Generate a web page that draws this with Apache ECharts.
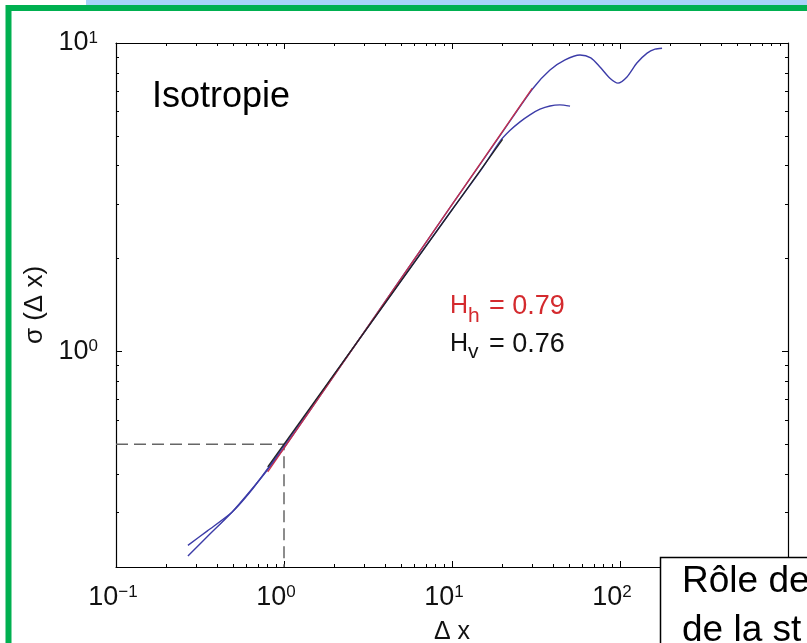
<!DOCTYPE html>
<html>
<head>
<meta charset="utf-8">
<script src="https://cdn.jsdelivr.net/npm/echarts@6/dist/echarts.min.js"></script>
<style>
  html, body { margin: 0; padding: 0; background: #fff; }
  #chart { width: 807px; height: 643px; }
</style>
</head>
<body>
<div id="chart"></div>
<script>
// σ(Δx) structure functions, horizontal and vertical directions (log–log)
const curveHx = [0.268, 0.35, 0.49, 0.628, 0.803, 1.0, 2, 5, 10, 20, 30.3, 38.3, 47.1, 57.8, 67, 76.0, 87.1, 97.3, 110, 126, 145, 161.5, 178];
const curveHy = [0.217, 0.251, 0.301, 0.352, 0.415, 0.487, 0.84, 1.73, 2.99, 5.15, 7.12, 8.17, 8.81, 9.14, 8.95, 8.36, 7.69, 7.41, 7.76, 8.61, 9.27, 9.55, 9.62];

const curveVx = [0.268, 0.35, 0.49, 0.628, 0.803, 1.0, 2, 5, 10, 15, 19.3, 22.1, 25.4, 29.1, 33.4, 38.3, 43.9, 50.4];
const curveVy = [0.235, 0.262, 0.301, 0.35, 0.418, 0.495, 0.845, 1.70, 2.88, 3.9, 4.8, 5.2, 5.55, 5.85, 6.1, 6.25, 6.3, 6.24];

// Power-law fits σ = a·Δx^H
const fitHexp = 0.79, fitHcoef = 0.485, fitHrange = [0.8, 30];
const fitVexp = 0.76, fitVcoef = 0.5, fitVrange = [0.8, 20];

// Reference guide at Δx = 1
const guideX = [0.1, 1, 1];
const guideY = [0.5, 0.5, 0.2];

// Axis extents and tick exponents
const xRange = [0.1, 1000];
const yRange = [0.2, 10];
const yLabelExp = [0, 1];
const minorMult = [2, 3, 4, 5, 6, 7, 8, 9];

const L = Math.log10;
const toPts = (xs, ys) => xs.map((x, i) => [L(x), L(ys[i])]);
const fitPts = (a, h, r) => r.map(x => [L(x), L(a * Math.pow(x, h))]);

const xMinor = [];
for (let d = -1; d < 3; d++) minorMult.forEach(m => xMinor.push(L(m * Math.pow(10, d))));
const yMinor = [];
for (let d = -1; d < 1; d++) minorMult.forEach(m => { const v = m * Math.pow(10, d); if (v >= yRange[0]) yMinor.push(L(v)); });

const FONT = '"Liberation Sans", Arial, Helvetica, sans-serif';
const supText = v => (v < 0 ? '\u2212' + (-v) : String(v));

const labelRich = {
  b: { fontSize: 27, lineHeight: 27, color: '#111', fontFamily: FONT },
  s: { fontSize: 17, lineHeight: 17, color: '#111', fontFamily: FONT, verticalAlign: 'top' },
  p1: { width: 16, fontSize: 10 },
  p2: { width: 6, fontSize: 10 }
};

const lineOn = { show: true, onZero: false, lineStyle: { color: '#000', width: 1.2 } };
const lineOff = { show: false, onZero: false };

const xA = [L(xRange[0]), L(xRange[1])];
const yA = [L(yRange[0]), L(yRange[1])];

function xAxisDef(pos, major) {
  return {
    type: 'value', position: pos, min: xA[0], max: xA[1], interval: 1,
    splitLine: { show: false },
    axisLine: major ? lineOn : lineOff,
    axisTick: major
      ? { inside: true, length: 6, lineStyle: { color: '#000' } }
      : { inside: true, length: 3, customValues: xMinor, lineStyle: { color: '#000' } },
    axisLabel: { show: false }
  };
}
function yAxisDef(pos, major) {
  return {
    type: 'value', position: pos, min: yA[0], max: yA[1],
    splitLine: { show: false },
    axisLine: major ? lineOn : lineOff,
    axisTick: major
      ? { inside: true, length: 6, customValues: yLabelExp, lineStyle: { color: '#000' } }
      : { inside: true, length: 3, customValues: yMinor, lineStyle: { color: '#000' } },
    axisLabel: { show: false }
  };
}

const xBottom = xAxisDef('bottom', true);
xBottom.axisLabel = {
  show: true, margin: 17,
  formatter: v => {
    const s = supText(v);
    return '{b|10}{s|' + s + '}' + (s.length > 1 ? '{p2| }' : '{p1| }');
  },
  rich: labelRich
};
xBottom.name = '\u0394 x';
xBottom.nameLocation = 'middle';
xBottom.nameGap = 53;
xBottom.nameTextStyle = { fontSize: 25, color: '#111', fontFamily: FONT };

const yLeft = yAxisDef('left', true);
yLeft.axisLabel = {
  show: true, margin: 18, customValues: yLabelExp,
  formatter: v => '{b|10}{s|' + supText(Math.round(v)) + '}',
  rich: labelRich
};
yLeft.name = '\u03c3 (\u0394 x)';
yLeft.nameLocation = 'middle';
yLeft.nameGap = 66;
yLeft.nameTextStyle = { fontSize: 26, color: '#111', fontFamily: FONT };

const chart = echarts.init(document.getElementById('chart'), null, { renderer: 'canvas' });

chart.setOption({
  animation: false,
  backgroundColor: '#fff',
  grid: { left: 116, top: 43, right: 19, bottom: 76, containLabel: false, outerBoundsMode: 'none' },
  xAxis: [xBottom, xAxisDef('top', true), xAxisDef('bottom', false), xAxisDef('top', false)],
  yAxis: [yLeft, yAxisDef('right', true), yAxisDef('left', false), yAxisDef('right', false)],
  series: [
    {
      name: 'guide', type: 'line', data: toPts(guideX, guideY), symbol: 'none',
      lineStyle: { color: '#666', width: 1.5, type: [12, 6] }, z: 1
    },
    {
      name: 'vertical', type: 'line', data: toPts(curveVx, curveVy), symbol: 'none',
      smooth: 0.25,
      lineStyle: { color: '#3c3ca8', width: 1.4 }
    },
    {
      name: 'horizontal', type: 'line', data: toPts(curveHx, curveHy), symbol: 'none',
      smooth: 0.25,
      lineStyle: { color: '#3c3ca8', width: 1.4 }
    },
    {
      name: 'fit H', type: 'line', data: fitPts(fitHcoef, fitHexp, fitHrange), symbol: 'none',
      lineStyle: { color: '#c8304a', width: 1.3 }
    },
    {
      name: 'fit V', type: 'line', data: fitPts(fitVcoef, fitVexp, fitVrange), symbol: 'none',
      lineStyle: { color: '#222', width: 1.3 }
    }
  ],
  graphic: [
    { type: 'rect', z: 100, shape: { x: 86, y: 0, width: 721, height: 5 }, style: { fill: '#a8d3f8' } },
    { type: 'rect', z: 100, shape: { x: 8.5, y: 8, width: 1000, height: 1000 }, style: { fill: null, stroke: '#00b050', lineWidth: 6 } },
    { type: 'text', z: 100, x: 152, y: 79, style: { text: 'Isotropie', fontSize: 36, fontFamily: FONT, fill: '#000' } },
    { type: 'text', z: 100, x: 450, y: 294, style: { text: 'H', fontSize: 25, fontFamily: FONT, fill: '#d42a2e' } },
    { type: 'text', z: 100, x: 468, y: 306, style: { text: 'h', fontSize: 21, fontFamily: FONT, fill: '#d42a2e' } },
    { type: 'text', z: 100, x: 489, y: 293, style: { text: '= 0.79', fontSize: 27, fontFamily: FONT, fill: '#d42a2e' } },
    { type: 'text', z: 100, x: 450, y: 332, style: { text: 'H', fontSize: 25, fontFamily: FONT, fill: '#111' } },
    { type: 'text', z: 100, x: 468, y: 342, style: { text: 'v', fontSize: 21, fontFamily: FONT, fill: '#111' } },
    { type: 'text', z: 100, x: 489, y: 331, style: { text: '= 0.76', fontSize: 27, fontFamily: FONT, fill: '#111' } },
    { type: 'rect', z: 100, shape: { x: 660.5, y: 557.5, width: 300, height: 200 }, style: { fill: '#fff', stroke: '#000', lineWidth: 1.5 } },
    { type: 'text', z: 101, x: 682, y: 557, style: { text: 'R\u00f4le de\nde la st', fontSize: 37, lineHeight: 49, fontFamily: FONT, fill: '#000' } }
  ]
});
</script>
</body>
</html>
